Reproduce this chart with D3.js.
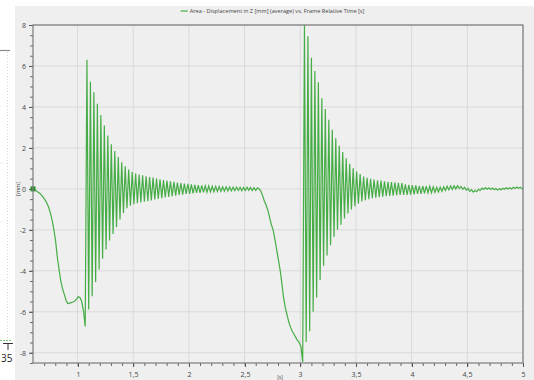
<!DOCTYPE html>
<html>
  <head>
    <meta charset="utf-8">
    <title>Displacement in Z vs. Frame Relative Time</title>
    <script src="https://d3js.org/d3.v7.min.js"></script>
    <style>
      body { margin: 0; background: #ffffff; }
      svg { display: block; }
      text { font-family: "Open Sans", "Noto Sans", sans-serif; fill: #444; }
    </style>
  </head>
  <body>
    <script>

      // frames are sampled at a fixed rate, first frame at 0.6 s
      var frameRate = 64;
      var startTime = 0.6;

      // Area - Displacement in Z [mm] (average), one value per frame
      var slowDrop1 = [0.00, -0.03, -0.10, -0.16, -0.22, -0.32, -0.43, -0.55, -0.70, -0.90,
        -1.18, -1.52, -2.00, -2.55, -3.35, -3.95, -4.50, -4.88, -5.15, -5.45,
        -5.60, -5.58, -5.55, -5.52, -5.48, -5.38, -5.27, -5.30, -5.50, -5.95, -6.72];
      var burst1 = [6.30, -5.89, 5.23, -5.24, 4.72, -4.55, 4.15, -3.93, 3.61, -3.41,
        3.09, -2.96, 2.60, -2.52, 2.18, -2.20, 1.85, -1.87, 1.55, -1.50,
        1.30, -1.18, 1.10, -0.95, 0.95, -0.82, 0.82, -0.75, 0.75, -0.70,
        0.70, -0.66, 0.66, -0.63, 0.62, -0.60, 0.58, -0.56, 0.55, -0.52,
        0.50, -0.48, 0.47, -0.45, 0.43, -0.42, 0.40, -0.39, 0.37, -0.36,
        0.34, -0.33, 0.31, -0.30, 0.28, -0.28, 0.26, -0.25, 0.24, -0.24,
        0.22, -0.22, 0.20, -0.20, 0.18, -0.19, 0.17, -0.17, 0.15, -0.16,
        0.14, -0.15, 0.13, -0.14, 0.12, -0.13, 0.11, -0.12, 0.10, -0.11,
        0.10, -0.10, 0.09, -0.10, 0.08, -0.09, 0.09, -0.08, 0.08, -0.09,
        0.07, -0.08, 0.08, -0.07, 0.07, -0.08, 0.06, -0.07, 0.05];
      var slowDrop2 = [0.00, -0.12, -0.35, -0.60, -0.80, -1.05, -1.40, -1.75, -2.00, -2.45,
        -2.95, -3.45, -3.95, -4.60, -5.30, -5.80, -6.15, -6.50, -6.75, -6.95,
        -7.10, -7.25, -7.40, -7.50, -7.70, -8.45];
      var burst2 = [8.00, -7.48, 7.45, -6.95, 6.40, -6.00, 5.75, -5.30, 5.20, -4.45,
        4.42, -3.75, 3.90, -3.25, 3.38, -2.75, 2.89, -2.35, 2.47, -2.00,
        2.11, -1.75, 1.80, -1.45, 1.50, -1.20, 1.22, -1.00, 1.00, -0.85,
        0.85, -0.72, 0.72, -0.62, 0.60, -0.55, 0.54, -0.50, 0.49, -0.46,
        0.45, -0.43, 0.42, -0.40, 0.40, -0.38, 0.37, -0.36, 0.35, -0.34,
        0.33, -0.33, 0.32, -0.31, 0.30, -0.30, 0.28, -0.30, 0.22, -0.30,
        0.20, -0.28, 0.18, -0.27, 0.17, -0.25, 0.15, -0.24, 0.14, -0.22,
        0.13, -0.20, 0.12, -0.19, 0.10, -0.17, 0.08, -0.15, 0.08, -0.12,
        0.10, -0.08, 0.13, -0.05, 0.15, -0.02, 0.15, 0.00, 0.16, 0.02,
        0.12, -0.02, 0.08, -0.06, 0.02, -0.12, -0.04, -0.16, -0.08, -0.14,
        -0.02, -0.08, 0.04, -0.03, 0.06, -0.02, 0.05, -0.03, 0.04, -0.04,
        0.02, -0.05, 0.01, -0.04, 0.03, -0.02, 0.05, -0.01, 0.06, 0.00,
        0.08, 0.02, 0.09, 0.03, 0.08, 0.01, 0.04, -0.03, -0.05, -0.08];

      var displacement = slowDrop1.concat(burst1, slowDrop2, burst2);

      var xTickValues = [1, 1.5, 2, 2.5, 3, 3.5, 4, 4.5, 5];
      var xTickLabels = ["1", "1,5", "2", "2,5", "3", "3,5", "4", "4,5", "5"];
      var yTickValues = [8, 6, 4, 2, 0, -2, -4, -6, -8];
      var yTickLabels = ["8", "6", "4", "2", "0", "-2", "-4", "-6", "-8"];

      var title = "Area - Displacement in Z [mm] (average) vs. Frame Relative Time [s]";
      var green = "#46ad46";

      var width = 534, height = 380;
      var plot = {left: 33, right: 523, top: 25, bottom: 363};

      var svg = d3.select("body")
                  .append("svg")
                  .attr("width", width)
                  .attr("height", height);

      // bits of the window behind the chart panel
      var behind = svg.append("g");
      behind.append("line").attr("x1", 0).attr("x2", 10).attr("y1", 50.5).attr("y2", 50.5)
            .attr("stroke", "#8a8a8a").attr("stroke-width", 1.2);
      behind.append("line").attr("x1", 7.5).attr("x2", 7.5).attr("y1", 52).attr("y2", 338)
            .attr("stroke", "#d6d6d6").attr("stroke-dasharray", "1,2");
      [106, 163, 222, 280].forEach(function(yy) {
        behind.append("line").attr("x1", 0).attr("x2", 12).attr("y1", yy).attr("y2", yy)
              .attr("stroke", "#e6e6e6").attr("stroke-dasharray", "1,2");
      });
      behind.append("line").attr("x1", 0).attr("x2", 12).attr("y1", 340.5).attr("y2", 340.5)
            .attr("stroke", "#7cc47c").attr("stroke-dasharray", "2,1");
      behind.append("path").attr("d", "M3,343.5H13M8,343.5V350")
            .attr("stroke", "#333").attr("fill", "none");
      behind.append("text").attr("x", 1).attr("y", 362).text("35")
            .style("font-size", "10px").style("fill", "#222");

      // chart panel
      svg.append("rect")
         .attr("x", 15).attr("y", 6)
         .attr("width", width - 15).attr("height", height - 6)
         .attr("fill", "#efefef");

      var x = d3.scaleLinear().domain([0.6, 5]).range([plot.left, plot.right]);
      var y = d3.scaleLinear().domain([-8.5, 8]).range([plot.bottom, plot.top]);

      // grid
      svg.append("g").selectAll("line")
         .data(xTickValues).enter().append("line")
         .attr("x1", function(d) { return x(d); }).attr("x2", function(d) { return x(d); })
         .attr("y1", plot.top).attr("y2", plot.bottom)
         .attr("stroke", "#dadada");
      svg.append("g").selectAll("line")
         .data(yTickValues).enter().append("line")
         .attr("x1", plot.left).attr("x2", plot.right)
         .attr("y1", function(d) { return y(d); }).attr("y2", function(d) { return y(d); })
         .attr("stroke", "#dadada");

      // minor ticks
      var xMinor = d3.range(7, 50).map(function(d) { return d / 10; });
      var yMinor = d3.range(-17, 17).map(function(d) { return d / 2; });

      svg.append("g")
         .attr("transform", "translate(0," + plot.bottom + ")")
         .call(d3.axisBottom(x).tickValues(xMinor).tickSize(3).tickFormat(""))
         .call(function(g) { g.select(".domain").remove(); })
         .selectAll("line").attr("stroke", "#666");
      svg.append("g")
         .attr("transform", "translate(" + plot.left + ",0)")
         .call(d3.axisLeft(y).tickValues(yMinor).tickSize(3).tickFormat(""))
         .call(function(g) { g.select(".domain").remove(); })
         .selectAll("line").attr("stroke", "#666");

      // major ticks and labels
      var xAxis = svg.append("g")
         .attr("transform", "translate(0," + plot.bottom + ")")
         .call(d3.axisBottom(x).tickValues(xTickValues).tickSize(4).tickPadding(5)
                 .tickFormat(function(d, i) { return xTickLabels[i]; }));
      xAxis.select(".domain").remove();
      xAxis.selectAll(".tick")
           .attr("transform", function(d) { return "translate(" + (Math.round(x(d)) + 0.5) + ",0)"; });
      xAxis.selectAll("line").attr("stroke", "#555");
      xAxis.selectAll("text").style("font-size", "7px").style("fill", "#444");

      var yAxis = svg.append("g")
         .attr("transform", "translate(" + plot.left + ",0)")
         .call(d3.axisLeft(y).tickValues(yTickValues).tickSize(4).tickPadding(3)
                 .tickFormat(function(d, i) { return yTickLabels[i]; }));
      yAxis.select(".domain").remove();
      yAxis.selectAll("line").attr("stroke", "#555");
      yAxis.selectAll("text").style("font-size", "7px").style("fill", "#444");

      // data line
      svg.append("clipPath").attr("id", "plotClip")
         .append("rect")
         .attr("x", plot.left).attr("y", plot.top)
         .attr("width", plot.right - plot.left).attr("height", plot.bottom - plot.top);

      var line = d3.line()
                   .x(function(d, i) { return x(startTime + i / frameRate); })
                   .y(function(d) { return y(d); });

      svg.append("path")
         .datum(displacement)
         .attr("clip-path", "url(#plotClip)")
         .attr("d", line)
         .attr("fill", "none")
         .attr("stroke", green)
         .attr("stroke-width", 1.2)
         .attr("stroke-linejoin", "miter");

      // first frame marker
      svg.append("rect")
         .attr("x", x(startTime) - 2.5).attr("y", y(displacement[0]) - 2.5)
         .attr("width", 5).attr("height", 5)
         .attr("fill", "#2e8b2e");

      // frame
      svg.append("rect")
         .attr("x", plot.left).attr("y", plot.top)
         .attr("width", plot.right - plot.left).attr("height", plot.bottom - plot.top)
         .attr("fill", "none").attr("stroke", "#7a7a7a").attr("stroke-width", 1.2);

      // legend / title
      var legend = svg.append("g").attr("transform", "translate(277,11)");
      var legendText = legend.append("text")
         .attr("x", 0).attr("y", 2)
         .attr("text-anchor", "middle")
         .style("font-size", "5.6px")
         .style("fill", "#444")
         .text(title);
      var tw = legendText.node().getComputedTextLength();
      legend.append("line")
         .attr("x1", -tw / 2 - 9).attr("x2", -tw / 2 - 2)
         .attr("y1", 0).attr("y2", 0)
         .attr("stroke", green).attr("stroke-width", 1.2);

      // axis titles
      svg.append("text")
         .attr("transform", "translate(20," + y(0) + ") rotate(-90)")
         .attr("text-anchor", "middle")
         .style("font-size", "5.6px")
         .text("[mm]");
      svg.append("text")
         .attr("x", 280).attr("y", 379)
         .attr("text-anchor", "middle")
         .style("font-size", "5px")
         .text("[s]");

    </script>
  </body>
</html>
